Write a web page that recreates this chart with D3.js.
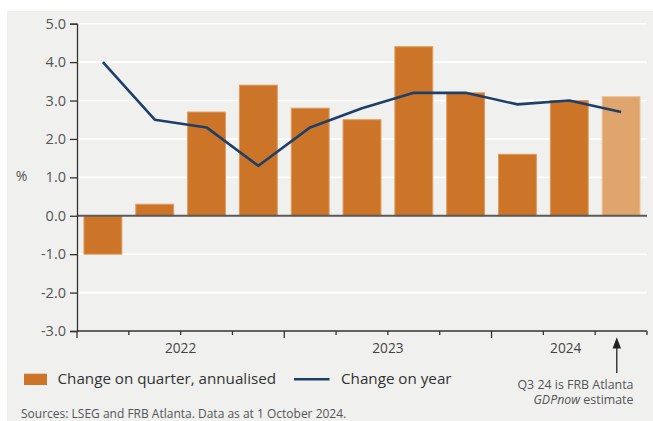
<!DOCTYPE html>
<html>
<head>
<meta charset="utf-8">
<script src="https://cdn.jsdelivr.net/npm/d3@7"></script>
<style>
  html, body { margin: 0; padding: 0; background: #ffffff; }
  svg { display: block; font-family: "Open Sans", "Noto Sans", sans-serif; }
</style>
</head>
<body>
<svg id="chart" width="653" height="421"></svg>
<script>
// Quarters shown, Q1 2022 to Q3 2024
const quarters = ["Q1 22", "Q2 22", "Q3 22", "Q4 22", "Q1 23", "Q2 23", "Q3 23", "Q4 23", "Q1 24", "Q2 24", "Q3 24"];
// US real GDP growth, % change on quarter, annualised
const qoqAnnualised = [-1.0, 0.3, 2.7, 3.4, 2.8, 2.5, 4.4, 3.2, 1.6, 3.0, 3.1];
// US real GDP growth, % change on year
const yoy = [4.0, 2.5, 2.3, 1.3, 2.3, 2.8, 3.2, 3.2, 2.9, 3.0, 2.7];
// Last quarter is an estimate (FRB Atlanta GDPNow)
const estimateFlags = [false, false, false, false, false, false, false, false, false, false, true];
// Year groupings along the x axis
const years = ["2022", "2023", "2024"];
const yearOfQuarter = ["2022", "2022", "2022", "2022", "2023", "2023", "2023", "2023", "2024", "2024", "2024"];
// Y axis ticks
const yTicks = [-3, -2, -1, 0, 1, 2, 3, 4, 5];

const svg = d3.select("#chart");
const W = 653, H = 421;

const colBar = "#cc7427", colBarEdge = "#e09a5c";
const colEst = "#e0a46d", colEstEdge = "#edc399";
const colLine = "#1e4068";
const colPanel = "#f0f0ef";

// Panel background
svg.append("rect").attr("x", 7).attr("y", 11).attr("width", W - 7).attr("height", H - 11).attr("fill", colPanel);

const plot = { left: 77, right: 647, top: 23.7, bottom: 331 };

const x = d3.scaleBand().domain(quarters).range([plot.left, plot.right]).paddingInner(0.25).paddingOuter(0.125);
const y = d3.scaleLinear().domain([-3, 5]).range([plot.bottom, plot.top]);

// Horizontal gridlines
svg.append("g").selectAll("line")
  .data(yTicks.filter(t => t !== 0 && t !== -3))
  .join("line")
  .attr("x1", plot.left).attr("x2", plot.right)
  .attr("y1", d => y(d)).attr("y2", d => y(d))
  .attr("stroke", "#ffffff").attr("stroke-width", 1.6);

// Bars
svg.append("g").selectAll("rect")
  .data(quarters.map((q, i) => ({ q, v: qoqAnnualised[i], est: estimateFlags[i] })))
  .join("rect")
  .attr("x", d => x(d.q) + 0.5)
  .attr("width", x.bandwidth() - 1)
  .attr("y", d => Math.min(y(d.v), y(0)))
  .attr("height", d => Math.abs(y(d.v) - y(0)))
  .attr("fill", d => d.est ? colEst : colBar)
  .attr("stroke", d => d.est ? colEstEdge : colBarEdge)
  .attr("stroke-width", 1);

// Zero line
svg.append("line")
  .attr("x1", plot.left).attr("x2", plot.right)
  .attr("y1", y(0)).attr("y2", y(0))
  .attr("stroke", "#5a5a5a").attr("stroke-width", 2);

// Change on year line
const line = d3.line().x((d, i) => x(quarters[i]) + x.bandwidth() / 2).y(d => y(d));
svg.append("path")
  .datum(yoy)
  .attr("d", line)
  .attr("fill", "none")
  .attr("stroke", colLine)
  .attr("stroke-width", 2.6)
  .attr("stroke-linejoin", "round");

// Y axis
const yAxis = d3.axisLeft(y).tickValues(yTicks).tickFormat(d3.format(".1f")).tickSize(7).tickPadding(4);
const gy = svg.append("g").attr("transform", `translate(${plot.left},0)`).call(yAxis);
gy.select(".domain").attr("stroke", "#333").attr("stroke-width", 1.3);
gy.selectAll(".tick line").attr("stroke", "#333").attr("stroke-width", 1.3);
gy.selectAll(".tick text")
  .attr("fill", "#555").style("font-size", "14.5px")
  .style("font-family", "'Open Sans', sans-serif")
  .text(d => d3.format(".1f")(d).replace("\u2212", "-"));

// X axis: baseline plus quarter boundary ticks
const step = x.step();
const bounds = d3.range(quarters.length + 1).map(i => plot.left + i * step);
svg.append("line")
  .attr("x1", plot.left).attr("x2", plot.right)
  .attr("y1", plot.bottom).attr("y2", plot.bottom)
  .attr("stroke", "#333").attr("stroke-width", 1.3);
svg.append("g").selectAll("line")
  .data(bounds)
  .join("line")
  .attr("x1", d => d).attr("x2", d => d)
  .attr("y1", plot.bottom)
  .attr("y2", (d, i) => plot.bottom + ((i % 4 === 0 && i < quarters.length) ? 7 : 4))
  .attr("stroke", "#333").attr("stroke-width", 1.3);

// Year labels centred under each year's quarters
svg.append("g").selectAll("text")
  .data(years)
  .join("text")
  .attr("x", yr => {
    const qs = quarters.filter((q, i) => yearOfQuarter[i] === yr);
    const a = x(qs[0]) - x.step() * x.paddingInner() / 2;
    const b = x(qs[qs.length - 1]) + x.bandwidth() + x.step() * x.paddingInner() / 2;
    return (a + b) / 2 - (qs.length < 4 ? 3.5 : 0);
  })
  .attr("y", 353.3)
  .attr("text-anchor", "middle")
  .attr("fill", "#444")
  .style("font-size", "13.7px")
  .text(d => d);

// Y axis unit
svg.append("text").attr("x", 21.5).attr("y", 181).attr("text-anchor", "middle")
  .attr("fill", "#555").style("font-size", "14px").text("%");

// Legend
svg.append("rect").attr("x", 24).attr("y", 373.7).attr("width", 23).attr("height", 11.3).attr("fill", colBar);
svg.append("text").attr("x", 57.5).attr("y", 384).attr("fill", "#333").style("font-size", "15.2px")
  .text("Change on quarter, annualised");
svg.append("line").attr("x1", 294).attr("x2", 329.5).attr("y1", 379.3).attr("y2", 379.3)
  .attr("stroke", colLine).attr("stroke-width", 2.6);
svg.append("text").attr("x", 341).attr("y", 384).attr("fill", "#333").style("font-size", "15.2px")
  .text("Change on year");

// Estimate annotation
const estIdx = estimateFlags.indexOf(true);
const ax = x(quarters[estIdx]) + x.bandwidth() / 2 - 4.3;
svg.append("line").attr("x1", ax).attr("x2", ax).attr("y1", 346).attr("y2", 373)
  .attr("stroke", "#222").attr("stroke-width", 1.3);
svg.append("path")
  .attr("d", `M${ax},337.3 L${ax - 4.2},348.5 L${ax + 4.2},348.5 Z`)
  .attr("fill", "#222");
const note = svg.append("g").attr("fill", "#555").style("font-size", "12.4px").attr("text-anchor", "end");
note.append("text").attr("x", 633.5).attr("y", 389).text("Q3 24 is FRB Atlanta");
const note2 = note.append("text").attr("x", 633.5).attr("y", 403.5);
note2.append("tspan").style("font-style", "italic").text("GDPnow");
note2.append("tspan").text(" estimate");

// Source line
svg.append("text").attr("x", 21).attr("y", 417.6).attr("fill", "#555").style("font-size", "12px")
  .text("Sources: LSEG and FRB Atlanta. Data as at 1 October 2024.");
</script>
</body>
</html>
